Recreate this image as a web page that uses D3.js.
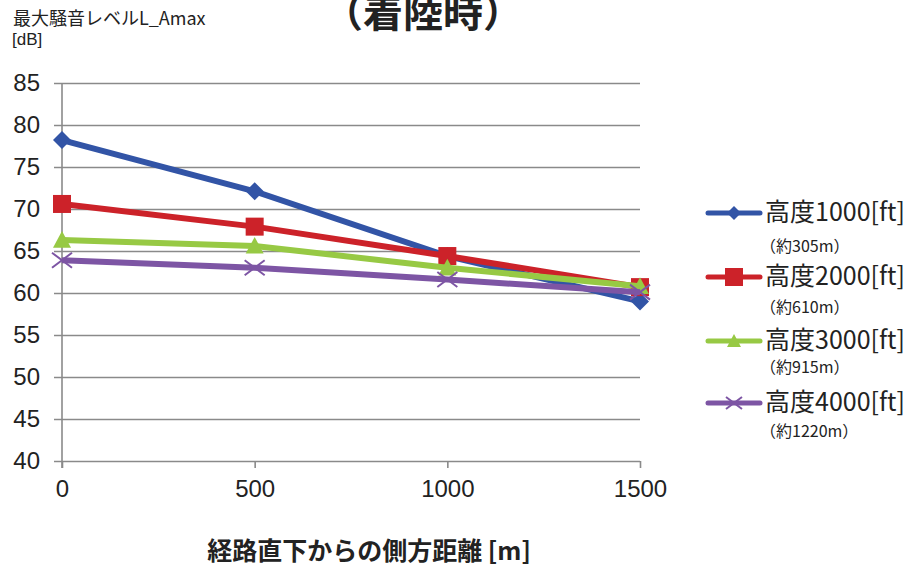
<!DOCTYPE html>
<html>
<head>
<meta charset="utf-8">
<script src="https://cdn.jsdelivr.net/npm/d3@7"></script>
<style>
  body { margin: 0; background: #fff; }
  svg text { fill: #222; }
  .jp { font-family: "Noto Sans CJK JP", sans-serif; }
  .num { font-family: "Liberation Sans", Arial, sans-serif; }
</style>
</head>
<body>
<svg id="chart" width="911" height="566"></svg>
<script>
const distances = [0, 500, 1000, 1500];
const yTicks = [40, 45, 50, 55, 60, 65, 70, 75, 80, 85];
const seriesNames = ["高度1000[ft]", "高度2000[ft]", "高度3000[ft]", "高度4000[ft]"];
const seriesNotes = ["（約305m）", "（約610m）", "（約915m）", "（約1220m）"];
const h1000 = [78.2, 72.1, 64.4, 59.0];
const h2000 = [70.6, 67.9, 64.4, 60.7];
const h3000 = [66.3, 65.6, 63.0, 60.8];
const h4000 = [63.9, 63.0, 61.6, 60.1];
const colors = ["#3254a6", "#cc2229", "#97c944", "#7d55a4"];
const markers = ["diamond", "square", "triangle", "cross"];

const series = [h1000, h2000, h3000, h4000].map((v, i) => ({
  name: seriesNames[i], note: seriesNotes[i], values: v, color: colors[i], marker: markers[i]
}));

const svg = d3.select("#chart");
const x = d3.scaleLinear().domain([0, 1500]).range([62, 640]);
const y = d3.scaleLinear().domain([40, 85]).range([461, 83]);

// grid + y axis
svg.append("g")
  .attr("transform", "translate(62,0)")
  .call(d3.axisLeft(y).tickValues(yTicks).tickSize(8).tickPadding(14).tickSizeOuter(0))
  .call(g => g.select(".domain").remove())
  .call(g => g.selectAll(".tick line").attr("x2", 640 - 62).attr("x1", -8)
    .attr("stroke", "#8a8a8a").attr("stroke-width", 1.6))
  .call(g => g.selectAll(".tick text").attr("class", "num").attr("font-size", 24).attr("fill", "#222"));

// x axis
svg.append("g")
  .attr("transform", "translate(0,461)")
  .call(d3.axisBottom(x).tickValues(distances).tickFormat(d3.format("d")).tickSize(7).tickPadding(12).tickSizeOuter(0))
  .call(g => g.select(".domain").remove())
  .call(g => g.selectAll(".tick line").attr("stroke", "#8a8a8a").attr("stroke-width", 1.6))
  .call(g => g.selectAll(".tick text").attr("class", "num").attr("font-size", 24).attr("fill", "#222"));

// vertical axis line
svg.append("line")
  .attr("x1", x(0)).attr("x2", x(0)).attr("y1", y(85)).attr("y2", y(40) + 7)
  .attr("stroke", "#8a8a8a").attr("stroke-width", 1.6);

function drawMarker(g, type, color, cx, cy, s) {
  if (type === "diamond") {
    g.append("path").attr("d", `M${cx},${cy - s}L${cx + s},${cy}L${cx},${cy + s}L${cx - s},${cy}Z`).attr("fill", color);
  } else if (type === "square") {
    g.append("rect").attr("x", cx - s).attr("y", cy - s).attr("width", 2 * s).attr("height", 2 * s).attr("fill", color);
  } else if (type === "triangle") {
    g.append("path").attr("d", `M${cx},${cy - s}L${cx + s},${cy + s * 0.85}L${cx - s},${cy + s * 0.85}Z`).attr("fill", color);
  } else {
    g.append("path").attr("d", `M${cx - s},${cy - s * 0.75}L${cx + s},${cy + s * 0.75}M${cx - s},${cy + s * 0.75}L${cx + s},${cy - s * 0.75}`)
      .attr("stroke", color).attr("stroke-width", 2).attr("fill", "none");
  }
}
const msize = { diamond: 9, square: 9, triangle: 9, cross: 10 };
const lsize = { diamond: 7, square: 9, triangle: 7, cross: 8 };

const line = d3.line().x((d, i) => x(distances[i])).y(d => y(d));
series.forEach(s => {
  const g = svg.append("g");
  g.append("path").datum(s.values).attr("d", line)
    .attr("fill", "none").attr("stroke", s.color).attr("stroke-width", 6).attr("stroke-linejoin", "round");
  s.values.forEach((v, i) => drawMarker(g, s.marker, s.color, x(distances[i]), y(v), msize[s.marker]));
});

// legend
const legY = [213, 277, 341, 403];
const noteY = [252, 313, 373, 437];
series.forEach((s, i) => {
  const g = svg.append("g");
  g.append("line").attr("x1", 708).attr("x2", 760).attr("y1", legY[i]).attr("y2", legY[i])
    .attr("stroke", s.color).attr("stroke-width", 5).attr("stroke-linecap", "round");
  drawMarker(g, s.marker, s.color, 734, legY[i], lsize[s.marker]);
  g.append("text").attr("class", "jp").attr("x", 765).attr("y", legY[i] + 8)
    .attr("font-size", 25).text(s.name);
  g.append("text").attr("class", "jp").attr("x", 760).attr("y", noteY[i])
    .attr("font-size", 16).text(s.note);
});

// titles
svg.append("text").attr("class", "jp").attr("x", 423).attr("y", 27).attr("text-anchor", "middle")
  .attr("font-size", 40).attr("font-weight", "bold").attr("fill", "#111").text("（着陸時）");
svg.append("text").attr("class", "jp").attr("x", 13).attr("y", 25).attr("font-size", 18).text("最大騒音レベルL_Amax");
svg.append("text").attr("class", "num").attr("x", 12).attr("y", 45).attr("font-size", 17).text("[dB]");
svg.append("text").attr("class", "jp").attr("x", 369).attr("y", 560).attr("text-anchor", "middle")
  .attr("font-size", 25).attr("font-weight", "bold").attr("fill", "#111").text("経路直下からの側方距離 [m]");
</script>
</body>
</html>
